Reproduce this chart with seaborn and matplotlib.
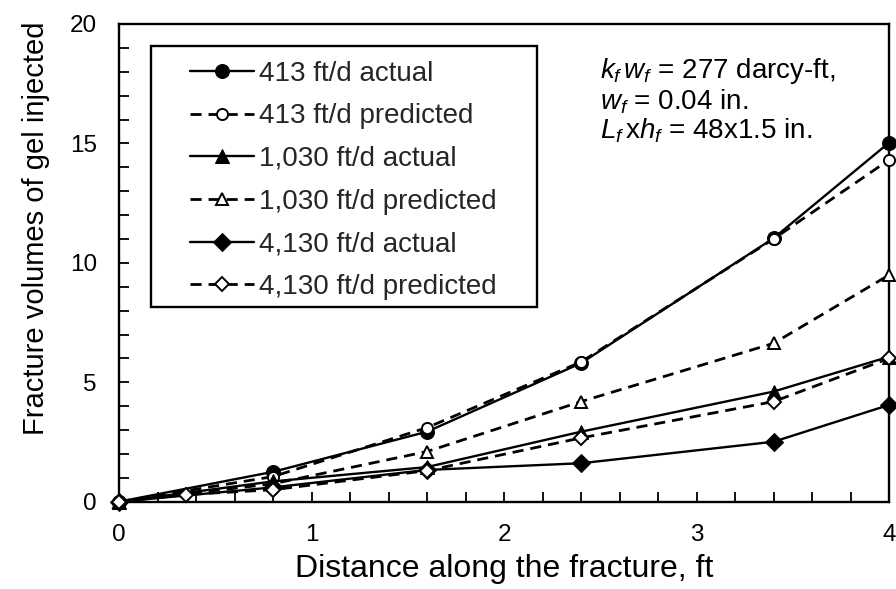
import matplotlib
matplotlib.use("Agg")
import matplotlib.pyplot as plt
import matplotlib.patches as mpatches
import seaborn as sns
import pandas as pd
from matplotlib.ticker import MultipleLocator

# ---- data ----
x_main = [0, 0.8, 1.6, 2.4, 3.4, 4.0]
x_4130p = [0, 0.35, 0.8, 1.6, 2.4, 3.4, 4.0]
y_413_actual = [0, 1.25, 2.93, 5.80, 11.03, 15.03]
y_413_pred = [0, 1.05, 3.10, 5.85, 11.0, 14.31]
y_1030_actual = [0, 0.85, 1.45, 2.93, 4.61, 6.07]
y_1030_pred = [0, 0.75, 2.10, 4.19, 6.63, 9.49]
y_4130_actual = [0, 0.60, 1.33, 1.61, 2.51, 4.05]
y_4130_pred = [0, 0.30, 0.50, 1.30, 2.67, 4.19, 6.00]

labels = ["413 ft/d actual", "413 ft/d predicted",
          "1,030 ft/d actual", "1,030 ft/d predicted",
          "4,130 ft/d actual", "4,130 ft/d predicted"]
x_ticks = [0, 1, 2, 3, 4]
y_ticks = [0, 5, 10, 15, 20]

series = [
    (labels[0], x_main, y_413_actual, "o", True),
    (labels[1], x_main, y_413_pred, "o", False),
    (labels[2], x_main, y_1030_actual, "^", True),
    (labels[3], x_main, y_1030_pred, "^", False),
    (labels[4], x_main, y_4130_actual, "D", True),
    (labels[5], x_4130p, y_4130_pred, "D", False),
]

sns.set_theme(style="ticks")
plt.rcParams["font.family"] = ["Liberation Sans", "DejaVu Sans"]
plt.rcParams["mathtext.fontset"] = "custom"
plt.rcParams["mathtext.rm"] = "Liberation Sans"
plt.rcParams["mathtext.it"] = "Liberation Sans:italic"

fig = plt.figure(figsize=(8.96, 5.89), dpi=100)
ax = fig.add_axes([119/896, 1 - 501.7/589, 770/896, 477.7/589])

msize = {"o": 10, "^": 10, "D": 9}
for lab, xs, ys, mk, filled in series:
    df = pd.DataFrame({"x": xs, "y": ys})
    if filled:
        sns.lineplot(data=df, x="x", y="y", ax=ax, color="black", lw=1.7,
                     marker=mk, markersize=msize[mk], mfc="black", mec="black",
                     label=lab, clip_on=False, zorder=3)
    else:
        sns.lineplot(data=df, x="x", y="y", ax=ax, color="black", lw=2.0,
                     linestyle=(0, (4, 2.5)), marker=mk, markersize=msize[mk] - 2,
                     mfc="white", mec="black", mew=1.4,
                     label=lab, clip_on=False, zorder=3)

ax.set_xlim(0, 4)
ax.set_ylim(0, 20)
ax.set_xticks(x_ticks)
ax.set_yticks(y_ticks)
ax.xaxis.set_minor_locator(MultipleLocator(0.2))
ax.yaxis.set_minor_locator(MultipleLocator(1))
ax.tick_params(axis="both", which="both", direction="in", color="black",
               width=1.3, labelsize=17.5, pad=16, labelcolor="black")
ax.tick_params(which="major", length=7)
ax.tick_params(which="minor", length=7)
for s in ax.spines.values():
    s.set_color("black")
    s.set_linewidth(1.7)

ax.set_xlabel("Distance along the fracture, ft", fontsize=23, color="black", labelpad=6)
ax.set_ylabel("Fracture volumes of gel injected", fontsize=21, color="black")
ax.yaxis.set_label_coords(-0.09, 0.572)

# legend (frame drawn separately to match reference padding)
handles, labs = ax.get_legend_handles_labels()
leg = ax.legend(handles, labs, loc="upper left", bbox_to_anchor=(0.0922, 0.9233),
                borderaxespad=0, borderpad=0, frameon=False, fontsize=20,
                handlelength=2.3, handletextpad=0.2, labelspacing=0.60)
frame = mpatches.Rectangle((0.0416, 0.407), 0.543 - 0.0416, 0.9533 - 0.407,
                           transform=ax.transAxes, fill=True, facecolor="white",
                           edgecolor="black", lw=1.7, zorder=4)
ax.add_patch(frame)
leg.set_zorder(5)

txt_kw = dict(transform=ax.transAxes, fontsize=20, color="black", va="center", ha="left")
ax.text(0.625, 0.902, r"$k_f\,w_f$ = 277 darcy-ft,", **txt_kw)
ax.text(0.625, 0.838, r"$w_f$ = 0.04 in.", **txt_kw)
ax.text(0.625, 0.776, r"$L_f\,$x$h_f$ = 48x1.5 in.", **txt_kw)

fig.savefig("out.png", dpi=100)
